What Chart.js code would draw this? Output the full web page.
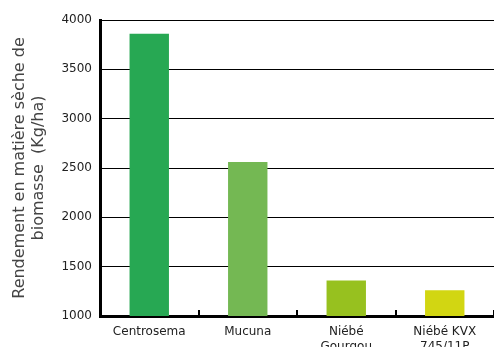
<!DOCTYPE html>
<html>
<head>
  <meta charset="UTF-8">
  <title>Rendement en matière sèche</title>
  <script src="https://cdn.jsdelivr.net/npm/chart.js"></script>
  <style>
    body { margin: 0; background: #fff; }
    #wrap { width: 494px; height: 347px; }
  </style>
</head>
<body>
  <div id="wrap"><canvas id="chart"></canvas></div>
  <script>
    const categories = ['Centrosema', 'Mucuna', ['Niébé', 'Gourgou'], ['Niébé KVX', '745/11P']];
    const yields = [3860, 2560, 1360, 1260];
    const barColors = ['#27a853', '#74b853', '#97c11f', '#d2d612'];
    const yTicks = [1000, 1500, 2000, 2500, 3000, 3500, 4000];
    const yTitle = ['Rendement en matière sèche de', 'biomasse  (Kg/ha)'];

    const font = "'DejaVu Sans', sans-serif";

    // short ticks between categories, pointing up into the plot
    const innerTicks = {
      id: 'innerTicks',
      afterDraw(chart) {
        const x = chart.scales.x, ctx = chart.ctx;
        const bottom = chart.chartArea.bottom;
        ctx.save();
        ctx.strokeStyle = '#000';
        ctx.lineWidth = 2;
        for (let i = 0; i < categories.length; i++) {
          const px = Math.round((x.getPixelForValue(i) + x.getPixelForValue(i + 1)) / 2);
          ctx.beginPath();
          ctx.moveTo(px, bottom);
          ctx.lineTo(px, bottom - 6);
          ctx.stroke();
        }
        ctx.restore();
      }
    };

    new Chart(document.getElementById('chart'), {
      type: 'bar',
      data: {
        labels: categories,
        datasets: [{
          data: yields,
          backgroundColor: barColors,
          categoryPercentage: 1,
          barPercentage: 0.4
        }]
      },
      options: {
        responsive: true,
        maintainAspectRatio: false,
        animation: false,
        layout: { padding: { top: 20, right: -4, left: 0, bottom: 0 } },
        plugins: { legend: { display: false }, tooltip: { enabled: false } },
        scales: {
          x: {
            afterFit(scale) { scale.height = 31; },
            grid: { display: false },
            border: { color: '#000', width: 3 },
            ticks: { color: '#222', font: { family: font, size: 12 }, padding: 1, maxRotation: 0 }
          },
          y: {
            min: 1000,
            max: 4000,
            afterFit(scale) { scale.width = 100; },
            afterBuildTicks(scale) { scale.ticks = yTicks.map(v => ({ value: v })); },
            grid: { color: '#000', lineWidth: 1, drawTicks: false },
            border: { color: '#000', width: 3 },
            ticks: {
              color: '#222',
              font: { family: font, size: 12 },
              padding: 8,
              callback: v => String(v)
            },
            title: {
              display: true,
              text: yTitle,
              color: '#444',
              font: { family: font, size: 16 },
              padding: { top: 10, bottom: 0 }
            }
          }
        }
      },
      plugins: [innerTicks]
    });
  </script>
</body>
</html>
